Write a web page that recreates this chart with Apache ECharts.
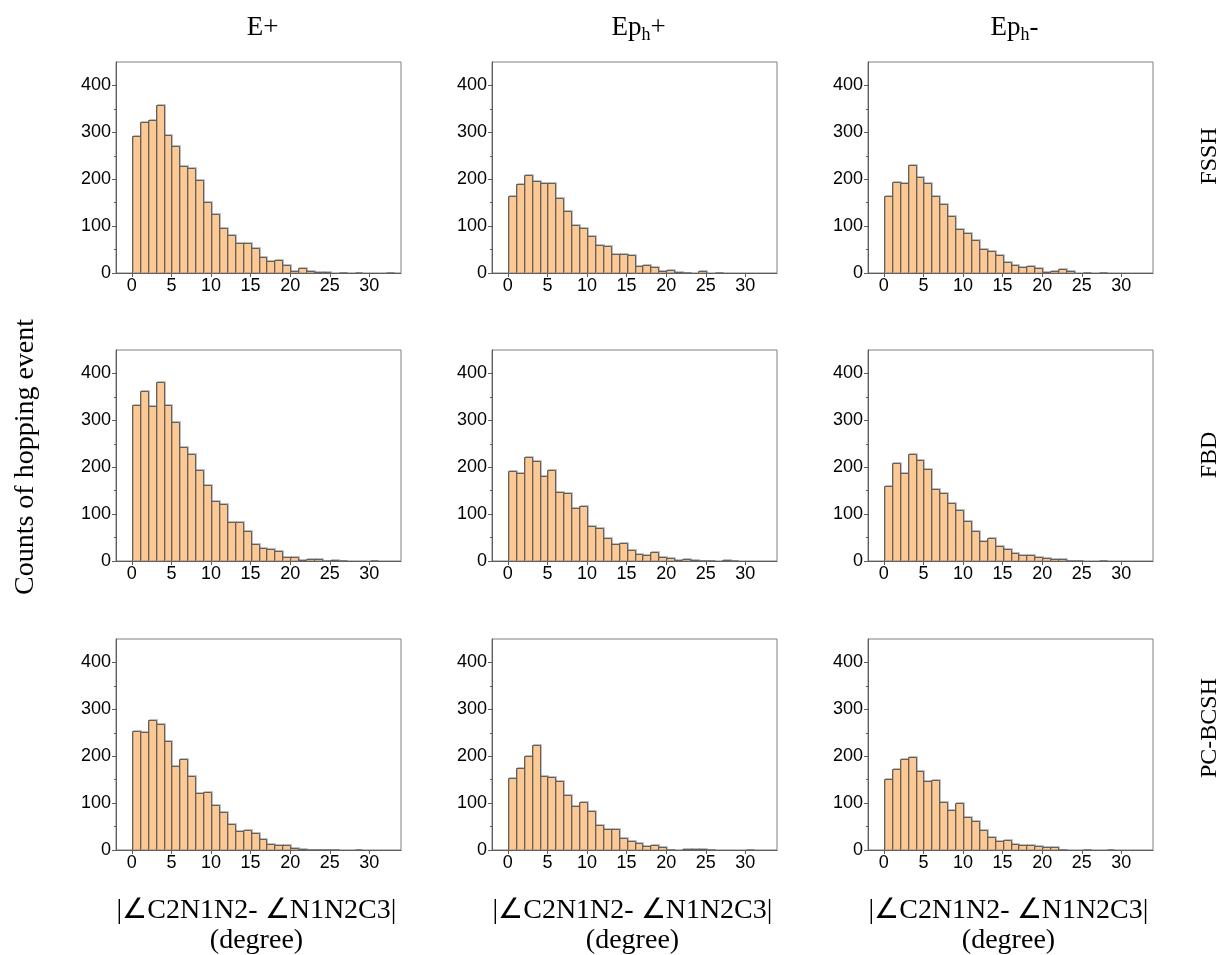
<!DOCTYPE html>
<html><head><meta charset="utf-8">
<script src="https://cdn.jsdelivr.net/npm/echarts@6/dist/echarts.min.js"></script>
<style>html,body{margin:0;padding:0;background:#fff}#c{width:1225px;height:955px}</style>
</head><body><div id="c"></div>
<script>
// ---- data ----
const binStarts = [0,1,2,3,4,5,6,7,8,9,10,11,12,13,14,15,16,17,18,19,20,21,22,23,24,25,26,27,28,29,30,31,32];
const binWidth = 1;
const xTickValues = [0,5,10,15,20,25,30];
const yTickValues = [0,100,200,300,400];
const yMinorTickValues = [50,150,250,350];
const rowNames = ['FSSH','FBD','PC-BCSH'];
const colNames = ['E+','Ep{sub|h}+','Ep{sub|h}-'];
const xAxisName = ['|\u2220C2N1N2- \u2220N1N2C3|','(degree)'];
const yAxisName = 'Counts of hopping event';

const fsshEPlus    = [293,322,327,359,295,270,228,224,199,152,126,95,80,65,63,53,34,26,28,17,5,10,5,3,2,0,1,0,1,0,0,0,1];
const fsshEphPlus  = [165,189,209,196,192,193,159,132,102,97,79,60,57,40,40,38,15,17,13,4,6,2,1,0,4,0,1,0,0,0,0,0,0];
const fsshEphMinus = [164,194,191,231,205,192,164,147,121,94,85,70,51,46,38,23,18,12,14,10,3,4,8,4,0,1,0,1,0,0,0,0,0];
const fbdEPlus     = [333,362,331,382,333,296,244,229,194,163,129,122,84,83,63,36,28,25,22,8,9,3,5,4,1,2,1,0,0,0,1,0,0];
const fbdEphPlus   = [193,187,221,214,182,195,148,146,112,118,74,70,48,36,39,23,14,12,19,8,6,3,4,2,1,1,0,2,1,0,0,0,0];
const fbdEphMinus  = [161,208,188,229,215,197,154,146,123,108,86,64,43,50,33,26,18,12,12,9,7,4,5,1,1,0,0,1,0,0,0,0,0];
const bcshEPlus    = [253,251,278,268,232,180,195,157,122,123,96,82,55,40,43,36,24,13,11,10,4,3,1,1,1,1,0,0,1,0,0,0,0];
const bcshEphPlus  = [153,175,200,223,157,155,147,117,94,102,83,54,44,44,25,19,15,9,11,7,1,0,3,2,2,1,0,0,0,0,1,0,0];
const bcshEphMinus = [151,173,194,198,168,147,150,102,85,100,70,62,42,28,19,21,13,10,11,8,6,6,1,0,0,1,0,0,1,0,0,0,0];

const panels = [
  [fsshEPlus, fsshEphPlus, fsshEphMinus],
  [fbdEPlus, fbdEphPlus, fbdEphMinus],
  [bcshEPlus, bcshEphPlus, bcshEphMinus]
];

// ---- layout ----
const colLeft = [116, 492, 868];
const rowTop = [62, 350, 639];
const W = 285, H = 211;
const axisColor = '#5c5c5c';
const fillColor = '#FCC894';
const serif = '"Liberation Serif", "Times New Roman", serif';
const sans = '"Liberation Sans", Arial, sans-serif';

function renderItem(params, api) {
  const v = api.value(2);
  if (!v) return null;
  const a = api.coord([api.value(0), 0]);
  const b = api.coord([api.value(1), v]);
  const x0 = Math.round(a[0]) + 0.5, x1 = Math.round(b[0]) + 0.5;
  const y0 = Math.round(a[1]) + 0.5, y1 = Math.round(b[1]) + 0.5;
  return {
    type: 'rect',
    shape: { x: x0, y: y1, width: x1 - x0, height: y0 - y1 },
    style: { fill: fillColor, stroke: '#606060', lineWidth: 1,
             shadowColor: 'rgba(0,0,0,0.18)', shadowOffsetX: 1, shadowOffsetY: -1, shadowBlur: 0 }
  };
}

const grid = [], xAxis = [], yAxis = [], series = [];
for (let r = 0; r < 3; r++) {
  for (let c = 0; c < 3; c++) {
    const gi = grid.length;
    grid.push({ left: colLeft[c], top: rowTop[r], width: W, height: H, show: true,
                borderColor: '#808080', borderWidth: 1, containLabel: false, outerBoundsMode: 'none' });
    xAxis.push({ gridIndex: gi, type: 'value', min: -2, max: 34,
      axisLine: { show: true, onZero: false, lineStyle: { color: axisColor, width: 1 } },
      axisTick: { show: true, customValues: xTickValues, length: 4, lineStyle: { color: axisColor } },
      axisLabel: { customValues: xTickValues, fontFamily: sans, fontSize: 18, color: '#000', margin: 4 },
      splitLine: { show: false } });
    yAxis.push({ gridIndex: gi, type: 'value', min: 0, max: 450, position: 'left',
      axisLine: { show: true, onZero: false, lineStyle: { color: axisColor, width: 1 } },
      axisTick: { show: true, customValues: yTickValues, length: 4, lineStyle: { color: axisColor } },
      axisLabel: { customValues: yTickValues, fontFamily: sans, fontSize: 18, color: '#000', margin: 5 },
      splitLine: { show: false } });
    yAxis.push({ gridIndex: gi, type: 'value', min: 0, max: 450, position: 'left', offset: 0,
      axisLine: { show: false, onZero: false },
      axisTick: { show: true, customValues: yMinorTickValues, length: 2, lineStyle: { color: axisColor } },
      axisLabel: { show: false }, splitLine: { show: false } });
    const vals = panels[r][c];
    series.push({ type: 'custom', xAxisIndex: gi, yAxisIndex: gi * 2,
      renderItem: renderItem, encode: { x: [0, 1], y: 2 }, clip: false,
      data: binStarts.map((s, i) => [s, s + binWidth, vals[i]]) });
  }
}

const graphic = [];
const richT = {
  n: { fontFamily: serif, fontSize: 27, color: '#000' },
  sub: { fontFamily: serif, fontSize: 18, color: '#000', padding: [14, 0, 0, 0] }
};
for (let c = 0; c < 3; c++) {
  const cx = colLeft[c] + W / 2;
  const parts = colNames[c].split(/(\{sub\|[^}]*\})/).filter(Boolean)
    .map(p => p.startsWith('{') ? p : '{n|' + p + '}').join('');
  graphic.push({ type: 'text', x: cx + 4, y: 28,
    style: { text: parts, rich: richT, align: 'center', verticalAlign: 'middle' } });
  graphic.push({ type: 'text', x: cx - 2, y: 911,
    style: { text: xAxisName[0], font: '28px ' + serif, fill: '#000', align: 'center', verticalAlign: 'middle' } });
  graphic.push({ type: 'text', x: cx - 2, y: 941,
    style: { text: xAxisName[1], font: '28px ' + serif, fill: '#000', align: 'center', verticalAlign: 'middle' } });
}
const rowLabelY = [156, 455, 728];
for (let r = 0; r < 3; r++) {
  graphic.push({ type: 'text', x: 1210, y: rowLabelY[r], rotation: Math.PI / 2,
    style: { text: rowNames[r], font: '24px ' + serif, fill: '#000', align: 'center', verticalAlign: 'middle' } });
}
graphic.push({ type: 'text', x: 26, y: 457, rotation: Math.PI / 2,
  style: { text: yAxisName, font: '28px ' + serif, fill: '#000', align: 'center', verticalAlign: 'middle' } });

const chart = echarts.init(document.getElementById('c'), null, { renderer: 'canvas' });
chart.setOption({ animation: false, backgroundColor: '#fff', grid, xAxis, yAxis, series, graphic });
</script>
</body></html>
